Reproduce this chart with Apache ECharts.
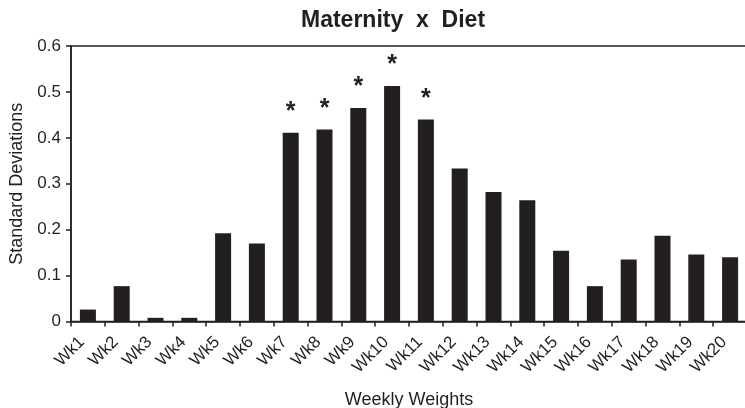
<!DOCTYPE html>
<html>
<head>
<meta charset="utf-8">
<script src="https://cdn.jsdelivr.net/npm/echarts@6/dist/echarts.min.js"></script>
<style>
html,body{margin:0;padding:0;background:#fff;}
#chart{width:745px;height:408px;}
</style>
</head>
<body>
<div id="chart"></div>
<script>
var categories = ['Wk1','Wk2','Wk3','Wk4','Wk5','Wk6','Wk7','Wk8','Wk9','Wk10','Wk11','Wk12','Wk13','Wk14','Wk15','Wk16','Wk17','Wk18','Wk19','Wk20'];
var values = [0.026,0.077,0.008,0.008,0.192,0.170,0.411,0.418,0.465,0.513,0.440,0.333,0.282,0.264,0.154,0.077,0.135,0.187,0.146,0.140];
var marks = ['','','','','','','*','*','*','*','*','','','','','','','','',''];
var yTicks = [0,0.1,0.2,0.3,0.4,0.5,0.6];

var FONT = '"Liberation Sans", Arial, Helvetica, sans-serif';
var INK = '#231f20';
var chart = echarts.init(document.getElementById('chart'), null, {renderer:'canvas'});
chart.setOption({
  animation: false,
  backgroundColor: '#fff',
  title: {
    text: 'Maternity  x  Diet',
    left: 296, top: 4,
    textStyle: {fontFamily: FONT, fontSize: 23, fontWeight: 'bold', color: INK}
  },
  grid: {left: 71, right: -2, top: 46, bottom: 86.5, show: true, borderColor: INK, borderWidth: 1.5,
         containLabel: false, outerBoundsMode: 'none'},
  xAxis: {
    type: 'category',
    data: categories,
    name: 'Weekly Weights',
    nameLocation: 'middle',
    nameGap: 70,
    nameTextStyle: {fontFamily: FONT, fontSize: 18, color: INK},
    axisLine: {show: true, lineStyle: {color: INK, width: 1.5}},
    axisTick: {show: true, alignWithLabel: false, inside: false, length: 5, lineStyle: {color: INK, width: 1.5}},
    axisLabel: {rotate: 45, margin: 24, verticalAlign: 'bottom', fontFamily: FONT, fontSize: 17, color: INK, interval: 0}
  },
  yAxis: {
    type: 'value',
    min: yTicks[0], max: yTicks[yTicks.length-1], interval: 0.1,
    name: 'Standard Deviations',
    nameLocation: 'middle',
    nameGap: 43,
    nameTextStyle: {fontFamily: FONT, fontSize: 18, color: INK},
    axisLine: {show: true, lineStyle: {color: INK, width: 1.5}},
    axisTick: {show: true, length: 5, lineStyle: {color: INK, width: 1.5}},
    splitLine: {show: false},
    axisLabel: {margin: 10, fontFamily: FONT, fontSize: 17, color: INK,
      formatter: function(v){ return v === 0 ? '0' : v.toFixed(1); }}
  },
  series: [{
    type: 'bar',
    data: values,
    barWidth: 16,
    itemStyle: {color: INK},
    label: {
      show: true,
      position: 'top',
      distance: 8,
      fontFamily: FONT,
      fontSize: 25,
      fontWeight: 'bold',
      color: INK,
      formatter: function(p){ return marks[p.dataIndex]; }
    }
  }]
});
</script>
</body>
</html>
